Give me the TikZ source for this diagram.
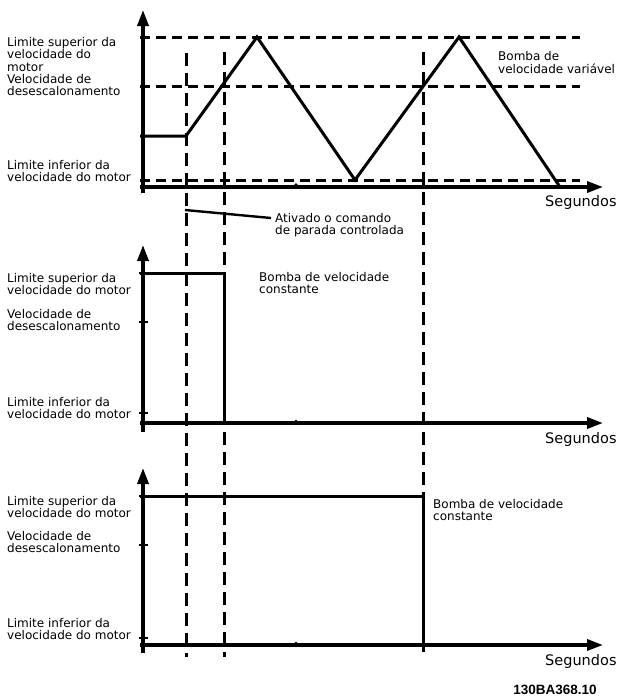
\documentclass[tikz,border=0pt]{standalone}
\usepackage{fontspec}
\setmainfont{DejaVu Sans}
\newfontfamily\codefont{Liberation Sans}
\usetikzlibrary{arrows.meta}
\begin{document}
\begin{tikzpicture}[x=1pt,y=-1pt,
  axisline/.style={line width=3.4pt,-{Triangle[length=16pt,width=11pt]}},
  hdash/.style={line width=3pt,dash pattern=on 10pt off 6pt},
  vdash/.style={line width=3pt,dash pattern=on 13pt off 7pt},
  curve/.style={line width=3pt,line join=miter},
  ytick/.style={line width=2.4pt},
  lbl/.style={anchor=west,inner sep=0pt,text height=8.7pt,text depth=2.5pt,font=\fontsize{12}{12}\selectfont},
  seg/.style={anchor=west,inner sep=0pt,text height=10.5pt,text depth=3pt,font=\fontsize{14.5}{14.5}\selectfont},
  dotmark/.style={fill=black,draw=none}]
\useasboundingbox (0,0) rectangle (623,697);
% ---------- vertical dashed guides ----------
\coordinate (v1t) at (186,53);  \coordinate (v1b) at (186,657);
\coordinate (v2t) at (224,52);  \coordinate (v2b) at (224,657);
\coordinate (v3t) at (423,52);  \coordinate (v3b) at (423,496);
\draw[vdash] (v1t) -- (v1b);
\draw[vdash] (v2t) -- (v2b);
\draw[vdash] (v3t) -- (v3b);
% ---------- chart 1 ----------
\coordinate (y1b) at (143,193); \coordinate (y1t) at (143,10);
\coordinate (x1l) at (140,187); \coordinate (x1r) at (603,187);
\draw[hdash] (140,37) -- (580,37);
\draw[hdash] (140,86) -- (580,86);
\draw[hdash] (140,180) -- (580,180);
\draw[axisline] (y1b) -- (y1t);
\draw[axisline] (x1l) -- (x1r);
\draw[curve] (140,136) -- (186,136) -- (257,37) -- (355,180) -- (459,37) -- (560,187);
\fill[dotmark] (296,185) circle (1.8);
\node[lbl] (c1a) at (7,43) {Limite superior da};
\node[lbl] (c1b) at (7,55.5) {velocidade do};
\node[lbl] (c1c) at (7,68) {motor};
\node[lbl] (c1d) at (7,80) {Velocidade de};
\node[lbl] (c1e) at (7,92) {desescalonamento};
\node[lbl] (c1f) at (7,166) {Limite inferior da};
\node[lbl] (c1g) at (7,178) {velocidade do motor};
\node[lbl] (c1h) at (498,57) {Bomba de};
\node[lbl] (c1i) at (498,70) {velocidade variável};
\node[seg] (c1s) at (545,203) {Segundos};
% annotation
\coordinate (annS) at (185,210);
\node[lbl] (annA) at (275,219) {Ativado o comando};
\node[lbl] (annB) at (275,231) {de parada controlada};
\draw[line width=2.4pt] (annS) -- ([xshift=-4pt,yshift=1pt]annA.west);
% ---------- chart 2 ----------
\coordinate (y2b) at (143,432); \coordinate (y2t) at (143,245);
\coordinate (x2l) at (140,423); \coordinate (x2r) at (603,423);
\draw[axisline] (y2b) -- (y2t);
\draw[axisline] (x2l) -- (x2r);
\foreach \yy in {273,322,413} \draw[ytick] (139,\yy) -- (148,\yy);
\draw[curve] (140,273) -- (224,273) -- (224,423);
\fill[dotmark] (296,421.5) circle (1.8);
\node[lbl] (c2a) at (7,279) {Limite superior da};
\node[lbl] (c2b) at (7,291.5) {velocidade do motor};
\node[lbl] (c2c) at (7,315) {Velocidade de};
\node[lbl] (c2d) at (7,327) {desescalonamento};
\node[lbl] (c2e) at (7,403) {Limite inferior da};
\node[lbl] (c2f) at (7,415.5) {velocidade do motor};
\node[lbl] (c2g) at (259,278) {Bomba de velocidade};
\node[lbl] (c2h) at (259,290.5) {constante};
\node[seg] (c2s) at (545,440) {Segundos};
% ---------- chart 3 ----------
\coordinate (y3b) at (143,653); \coordinate (y3t) at (143,468);
\coordinate (x3l) at (140,645); \coordinate (x3r) at (603,645);
\draw[axisline] (y3b) -- (y3t);
\draw[axisline] (x3l) -- (x3r);
\foreach \yy in {496,545,638} \draw[ytick] (139,\yy) -- (148,\yy);
\draw[curve] (140,496) -- (423,496) -- (423,652);
\fill[dotmark] (296,643.5) circle (1.8);
\node[lbl] (c3a) at (7,502) {Limite superior da};
\node[lbl] (c3b) at (7,514.5) {velocidade do motor};
\node[lbl] (c3c) at (7,537) {Velocidade de};
\node[lbl] (c3d) at (7,549.5) {desescalonamento};
\node[lbl] (c3e) at (7,624) {Limite inferior da};
\node[lbl] (c3f) at (7,636.5) {velocidade do motor};
\node[lbl] (c3g) at (433,505) {Bomba de velocidade};
\node[lbl] (c3h) at (433,517) {constante};
\node[seg] (c3s) at (545,662) {Segundos};
\node[inner sep=0pt,font=\codefont\bfseries\fontsize{13.5}{13.5}\selectfont] (code) at (555,690) {130BA368.10};
\end{tikzpicture}
\end{document}
